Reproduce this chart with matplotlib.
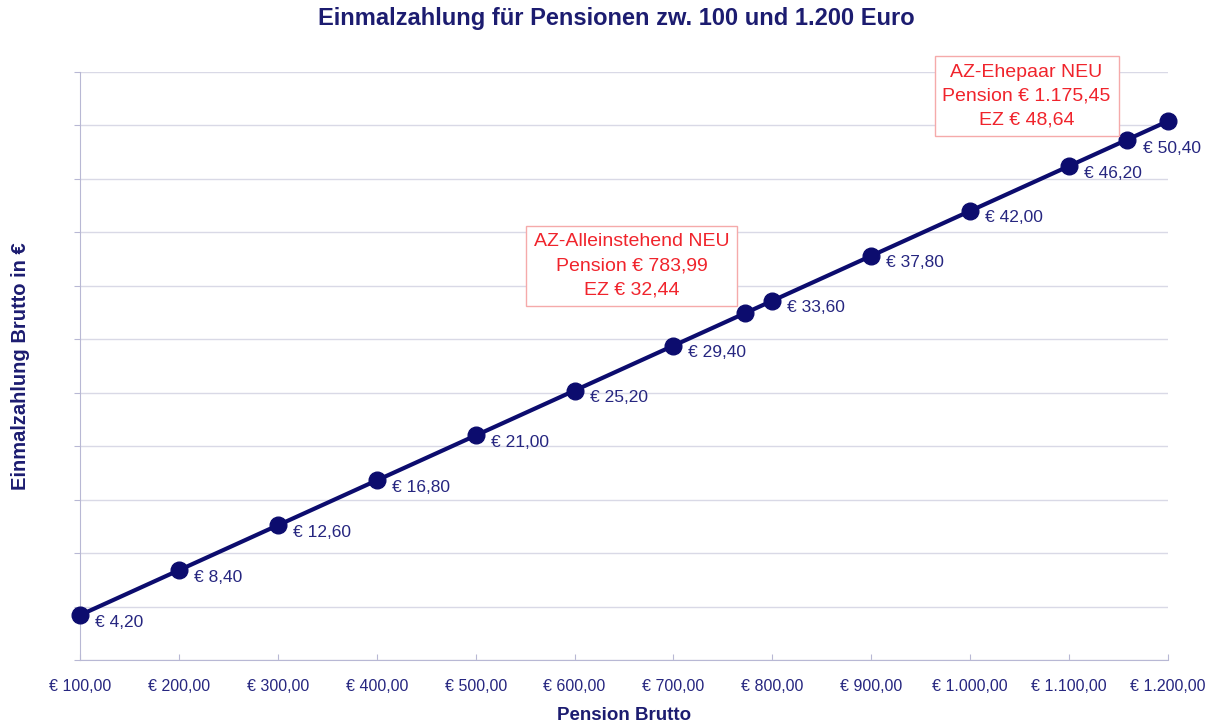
import numpy as np
import matplotlib.pyplot as plt

plt.rcParams['font.family'] = ['Liberation Sans', 'DejaVu Sans']

# pension (x) and one-off payment (y), incl. the two "NEU" points
pension = [100, 200, 300, 400, 500, 600, 700, 772.40, 800, 900, 1000, 1100, 1158.10, 1200]
einmal = [4.20, 8.40, 12.60, 16.80, 21.00, 25.20, 29.40, 32.44, 33.60, 37.80, 42.00, 46.20, 48.64, 50.40]
labelled = [True, True, True, True, True, True, True, False, True, True, True, True, False, True]

xticks = [100, 200, 300, 400, 500, 600, 700, 800, 900, 1000, 1100, 1200]
xticklabels = ['€ 100,00', '€ 200,00', '€ 300,00', '€ 400,00', '€ 500,00', '€ 600,00',
               '€ 700,00', '€ 800,00', '€ 900,00', '€ 1.000,00', '€ 1.100,00', '€ 1.200,00']

box_texts = ['AZ-Alleinstehend NEU\nPension € 783,99\nEZ € 32,44',
             'AZ-Ehepaar NEU\nPension € 1.175,45\nEZ € 48,64']

navy = '#0c0c6e'
text_blue = '#262680'
red = '#f0242c'

fig = plt.figure(figsize=(12.22, 7.26), dpi=100)
ax = fig.add_axes([0.0655, 0.0909, 0.8903, 0.81])

ax.plot(pension, einmal, color=navy, lw=3, marker='o', ms=12, zorder=3, clip_on=False)

for x, y, show in zip(pension, einmal, labelled):
    if not show:
        continue
    txt = '€ ' + f'{y:.2f}'.replace('.', ',')
    off = (-25, -27) if x == 1200 else (15, -7)
    ax.annotate(txt, (x, y), xytext=off, textcoords='offset pixels',
                fontsize=12.5, color=text_blue, ha='left', va='center')

ax.set_xlim(100, 1200)
ax.set_ylim(0, 55)
ax.set_yticks(np.arange(0, 56, 5))
ax.set_yticklabels([])
ax.set_xticks(xticks)
ax.set_xticklabels(xticklabels, fontsize=11.5, color=text_blue)
ax.tick_params(axis='x', direction='in', length=4, color='#b8b8d4', pad=14)
ax.tick_params(axis='y', direction='out', length=4, color='#b8b8d4')
ax.grid(axis='y', color='#d9d9e6', lw=1)
ax.set_axisbelow(True)
for s in ['top', 'right']:
    ax.spines[s].set_visible(False)
for s in ['left', 'bottom']:
    ax.spines[s].set_color('#b8b8d4')

ax.text(0.507, 0.670, box_texts[0], transform=ax.transAxes, ha='center', va='center',
        color=red, fontsize=14, linespacing=1.55,
        bbox=dict(boxstyle='square,pad=0.4', fc='white', ec='#f5aaaa', lw=1))
ax.text(0.870, 0.959, box_texts[1], transform=ax.transAxes, ha='center', va='center',
        color=red, fontsize=14, linespacing=1.5,
        bbox=dict(boxstyle='square,pad=0.4', fc='white', ec='#f5aaaa', lw=1))

fig.text(0.504, 0.974, 'Einmalzahlung für Pensionen zw. 100 und 1.200 Euro',
         ha='center', va='center', fontsize=17, fontweight='bold', color='#1c1c70')
ax.set_xlabel('Pension Brutto', fontsize=13.5, fontweight='bold', color='#1c1c70', labelpad=9)
ax.set_ylabel('Einmalzahlung Brutto in €', fontsize=14.5, fontweight='bold', color='#1c1c70')
ax.yaxis.set_label_coords(-0.046, 0.5)

fig.savefig('out.png', dpi=100)
